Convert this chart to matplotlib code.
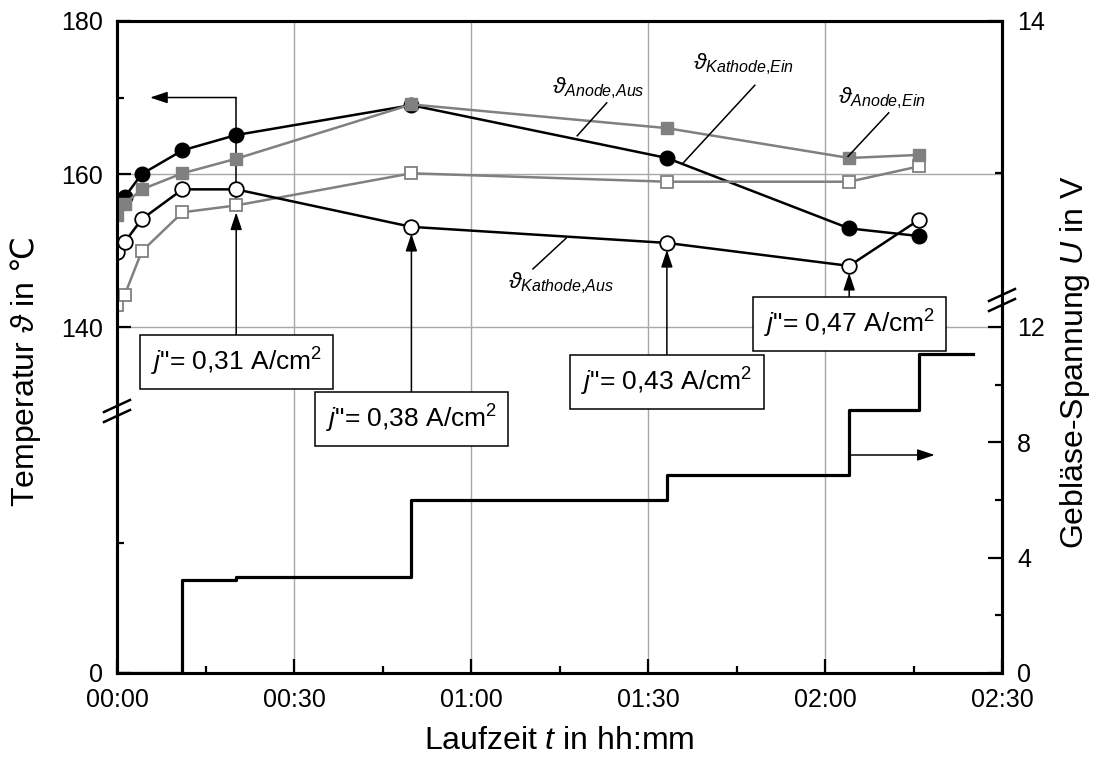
import matplotlib
matplotlib.use('Agg')
import matplotlib.pyplot as plt
from matplotlib.ticker import FixedLocator, FixedFormatter, MultipleLocator, FuncFormatter

plt.rcParams['font.family'] = ['Liberation Sans', 'DejaVu Sans']
plt.rcParams['mathtext.fontset'] = 'custom'
plt.rcParams['mathtext.rm'] = 'Liberation Sans'
plt.rcParams['mathtext.it'] = 'Liberation Sans:italic'
plt.rcParams['mathtext.sf'] = 'DejaVu Sans'
plt.rcParams['mathtext.fallback'] = 'cm'

# ---------------- data ----------------
time_min = [0.0, 1.3, 4.2, 11.1, 20.2, 49.9, 93.2, 124.1, 135.9]
T_kathode_ein = [156.0, 157.0, 160.0, 163.1, 165.1, 169.0, 162.1, 152.9, 151.9]
T_anode_ein = [154.6, 156.1, 158.0, 160.1, 162.0, 169.1, 166.0, 162.1, 162.5]
T_kathode_aus = [149.8, 151.1, 154.1, 158.0, 158.0, 153.1, 151.0, 148.0, 154.0]
T_anode_aus = [142.9, 144.2, 149.9, 155.0, 155.9, 160.1, 159.0, 159.0, 161.0]

step_time = [0.0, 11.1, 20.2, 49.9, 93.2, 124.1, 135.9, 145.0]
U_geblaese = [0.0, 3.23, 3.33, 6.0, 6.87, 9.12, 11.07, 11.07]

j_labels = ['0,31', '0,38', '0,43', '0,47']
j_index = [4, 5, 6, 7]
j_box_level = [135.4, 128.0, 132.8, 140.4]

x_ticks = [0, 30, 60, 90, 120, 150]
# broken axes: left lower part, right upper part
T_lo, T_hi = 94.8, 180.0
U_lo, U_hi = 0.0, 22.61
left_major = [T_lo, 140, 160, 180]
left_major_lbl = ['0', '140', '160', '180']
left_minor = [111.8, 150, 170]
right_major = [0, 4, 8, 12, U_hi]
right_major_lbl = ['0', '4', '8', '12', '14']
right_minor = [2, 6, 10, 17.34]

# ---------------- figure ----------------
fig = plt.figure(figsize=(10.93, 7.61), dpi=100)
ax = fig.add_axes([117/1093, 1-673/761, 885/1093, 652/761])
ax2 = ax.twinx()

ax.set_xlim(0, 150)
ax.set_ylim(T_lo, T_hi)
ax2.set_ylim(U_lo, U_hi)

GRAY = '#808080'
ax.set_axisbelow(True)
ax.xaxis.set_major_locator(FixedLocator(x_ticks))
ax.xaxis.set_minor_locator(MultipleLocator(15))
ax.xaxis.set_major_formatter(FuncFormatter(lambda v, p: f"{int(v)//60:02d}:{int(v)%60:02d}"))
ax.yaxis.set_major_locator(FixedLocator(left_major))
ax.yaxis.set_major_formatter(FixedFormatter(left_major_lbl))
ax.yaxis.set_minor_locator(FixedLocator(left_minor))
ax2.yaxis.set_major_locator(FixedLocator(right_major))
ax2.yaxis.set_major_formatter(FixedFormatter(right_major_lbl))
ax2.yaxis.set_minor_locator(FixedLocator(right_minor))

ax.grid(True, which='major', color='#a8a8a8', lw=1.0)
for a in (ax, ax2):
    a.tick_params(which='major', direction='in', length=10, width=1.6, labelsize=18, pad=10)
    a.tick_params(which='minor', direction='in', length=5, width=1.6)
    for s in a.spines.values():
        s.set_linewidth(2.2)
ax.tick_params(axis='y', which='both', right=False)
ax.tick_params(axis='x', which='both', top=False, pad=11)
ax2.tick_params(axis='y', pad=11)

# ---------------- series ----------------
ax.plot(time_min, T_kathode_ein, '-o', color='black', lw=1.8, ms=10.5, mfc='black', mec='black', zorder=3)
ax.plot(time_min, T_anode_ein, '-s', color=GRAY, lw=1.8, ms=9.3, mfc=GRAY, mec=GRAY, zorder=4)
ax.plot(time_min, T_kathode_aus, '-o', color='black', lw=1.8, ms=10.5, mfc='white', mec='black', mew=1.3, zorder=3.5)
ax.plot(time_min, T_anode_aus, '-s', color=GRAY, lw=1.8, ms=9.3, mfc='white', mec=GRAY, mew=1.3, zorder=3.2)

ax2.plot(step_time, U_geblaese, drawstyle='steps-post', color='black', lw=2.3, zorder=3)

# ---------------- annotations ----------------
arrow_kw = dict(arrowstyle='-|>,head_length=0.75,head_width=0.25', color='black', lw=1.1,
                mutation_scale=14, shrinkA=0)
targets = [T_anode_aus, T_kathode_aus, T_kathode_aus, T_kathode_aus]
for lbl, idx, lev, tgt in zip(j_labels, j_index, j_box_level, targets):
    t = time_min[idx]
    ax.text(t, lev, rf'$j$"= {lbl} A/cm$^2$', ha='center', va='center', fontsize=19, zorder=7,
            bbox=dict(boxstyle='square,pad=0.42', fc='white', ec='black', lw=1.1))
    ax.annotate('', xy=(t, tgt[idx]), xytext=(t, lev), zorder=6,
                arrowprops=dict(**arrow_kw, shrinkB=5))

# line from first point up to the left-axis arrow
t0 = time_min[j_index[0]]
ax.plot([t0, t0], [T_anode_aus[j_index[0]], 170], color='black', lw=1.1, zorder=2.5)
ax.annotate('', xy=(5.6, 170), xytext=(t0, 170), zorder=6,
            arrowprops=dict(**arrow_kw, shrinkB=0))
# right-axis arrow
t_r = time_min[7]
ax2.annotate('', xy=(138.6, 7.56), xytext=(t_r, 7.56), zorder=6,
             arrowprops=dict(**arrow_kw, shrinkB=0))

# curve labels with leader lines
curve_labels = [
    (r'$\vartheta_{Anode{,}Aus}$', (73.7, 171.2), (83.0, 169.3), (78.0, 165.0)),
    (r'$\vartheta_{Kathode{,}Ein}$', (97.6, 174.4), (108.1, 171.6), (95.9, 161.4)),
    (r'$\vartheta_{Anode{,}Ein}$', (122.2, 169.9), (130.8, 168.0), (123.9, 162.3)),
    (r'$\vartheta_{Kathode{,}Aus}$', (66.3, 145.75), (70.5, 147.6), (76.1, 151.6)),
]
for txt, pos, p0, p1 in curve_labels:
    ax.text(pos[0], pos[1], txt, ha='left', va='center', fontsize=16.5, zorder=6)
    ax.plot([p0[0], p1[0]], [p0[1], p1[1]], color='black', lw=1.1, zorder=5)

# axis break marks
def break_mark(xc, yc):
    dx, dy, gap = 13/885, 6/652, 10/652
    ax.fill([xc-dx, xc+dx, xc+dx, xc-dx], [yc-dy-gap/2, yc+dy-gap/2, yc+dy+gap/2, yc-dy+gap/2],
            color='white', transform=ax.transAxes, clip_on=False, zorder=8)
    for off in (-gap/2, gap/2):
        ax.plot([xc-dx, xc+dx], [yc-dy+off, yc+dy+off], color='black', lw=1.8,
                transform=ax.transAxes, clip_on=False, zorder=9)

break_mark(0.0, (673-411)/652)
break_mark(1.0, (673-300)/652)

# axis labels
ax.set_xlabel(r'Laufzeit $t$ in hh:mm', fontsize=23)
ax.xaxis.set_label_coords(0.5, -0.081)
ax.set_ylabel(r'Temperatur $\vartheta$ in $\mathsf{℃}$', fontsize=23)
ax.yaxis.set_label_coords(-0.084, 0.462)
ax2.set_ylabel(r'Gebläse-Spannung $U$ in V', fontsize=23)
ax2.yaxis.set_label_coords(1.063, 0.477)

fig.savefig('out.png', dpi=100)
